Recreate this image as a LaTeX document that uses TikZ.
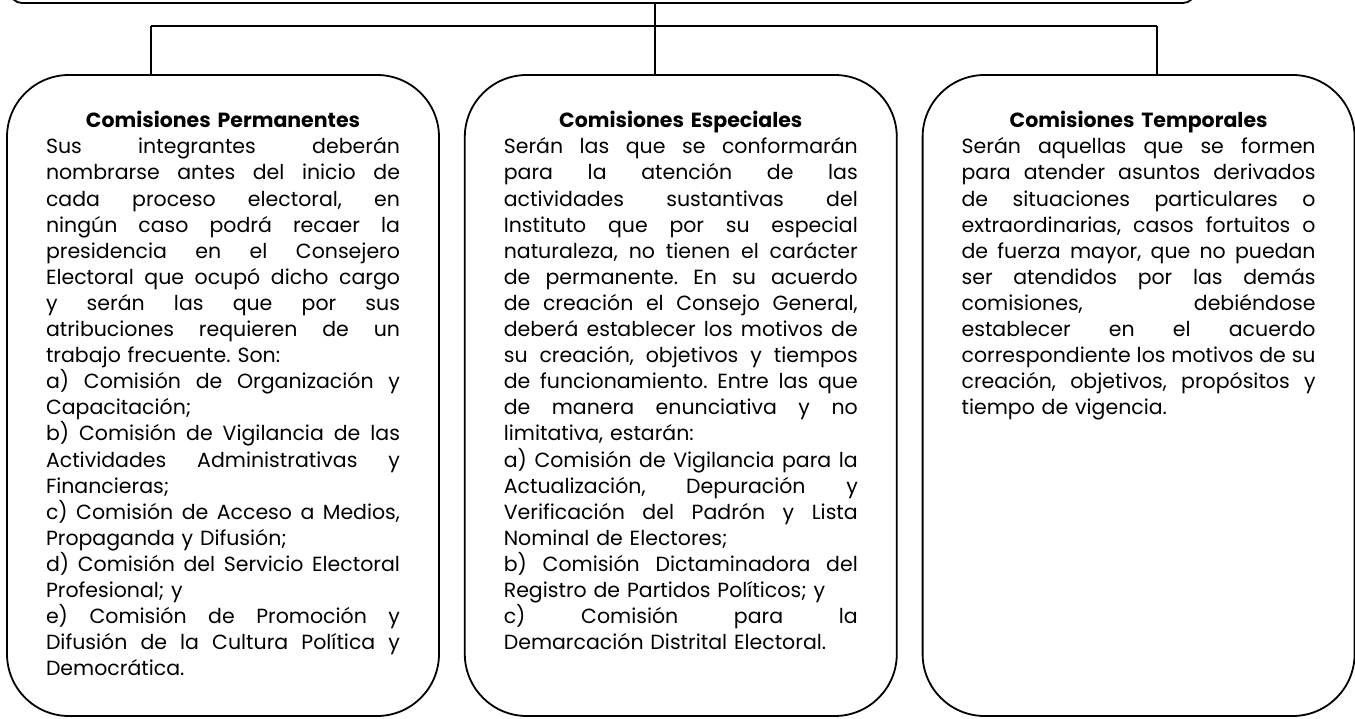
\documentclass[tikz,border=0pt]{standalone}
\usepackage{fontspec}
\setmainfont{Poppins}
\usetikzlibrary{positioning}
\newlength{\colw}
\setlength{\colw}{354pt}
\newcommand{\jl}[1]{\makebox[\colw][s]{\spaceskip=0pt\xspaceskip=0pt #1}}
\newcommand{\hd}[1]{\makebox[\colw][c]{\bfseries #1}}
\frenchspacing

\begin{document}
\begin{tikzpicture}[x=1pt,y=-1pt,node distance=24pt,inner sep=0pt]
\tikzstyle{box}=[rectangle, draw=black, line width=1.8pt, rounded corners=62pt, minimum width=432pt, minimum height=641pt]
\tikzstyle{top}=[rectangle, draw=black, line width=1.8pt, rounded corners=12pt, minimum width=1185pt, minimum height=60pt]
\tikzstyle{txt}=[anchor=north, text width=\colw, align=left, font=\fontsize{20.5}{26.1}\selectfont\frenchspacing]
\tikzstyle{connect}=[line width=1.6pt]
\useasboundingbox (0,0) rectangle (1355,719);
\node[top] (consejo) at (602.5,-27) {};
\node[box] (perm) at (223,395.5) {};
\node[box] (espe) [right=of perm] {};
\node[box] (temp) [right=of espe] {};
\coordinate (hl) at (151,26);
\coordinate (hm) at (655,26);
\coordinate (hr) at (1157,26);
\node[txt] (permtxt) [below=37pt of perm.north] {\hd{Comisiones Permanentes}\\
\jl{Sus integrantes deberán}\\
\jl{nombrarse antes del inicio de}\\
\jl{cada proceso electoral, en}\\
\jl{ningún caso podrá recaer la}\\
\jl{presidencia en el Consejero}\\
\jl{Electoral que ocupó dicho cargo}\\
\jl{y serán las que por sus}\\
\jl{atribuciones requieren de un}\\
trabajo frecuente. Son:\\
\jl{a) Comisión de Organización y}\\
Capacitación;\\
\jl{b) Comisión de Vigilancia de las}\\
\jl{Actividades Administrativas y}\\
Financieras;\\
\jl{c) Comisión de Acceso a Medios,}\\
Propaganda y Difusión;\\
\jl{d) Comisión del Servicio Electoral}\\
Profesional; y\\
\jl{e) Comisión de Promoción y}\\
\jl{Difusión de la Cultura Política y}\\
Democrática.};
\node[txt] (espetxt) [below=37pt of espe.north] {\hd{Comisiones Especiales}\\
\jl{Serán las que se conformarán}\\
\jl{para la atención de las}\\
\jl{actividades sustantivas del}\\
\jl{Instituto que por su especial}\\
\jl{naturaleza, no tienen el carácter}\\
\jl{de permanente. En su acuerdo}\\
\jl{de creación el Consejo General,}\\
\jl{deberá establecer los motivos de}\\
\jl{su creación, objetivos y tiempos}\\
\jl{de funcionamiento. Entre las que}\\
\jl{de manera enunciativa y no}\\
limitativa, estarán:\\
\jl{a) Comisión de Vigilancia para la}\\
\jl{Actualización, Depuración y}\\
\jl{Verificación del Padrón y Lista}\\
Nominal de Electores;\\
\jl{b) Comisión Dictaminadora del}\\
Registro de Partidos Políticos; y\\
\jl{c) Comisión para la}\\
Demarcación Distrital Electoral.};
\node[txt] (temptxt) [below=37pt of temp.north] {\hd{Comisiones Temporales}\\
\jl{Serán aquellas que se formen}\\
\jl{para atender asuntos derivados}\\
\jl{de situaciones particulares o}\\
\jl{extraordinarias, casos fortuitos o}\\
\jl{de fuerza mayor, que no puedan}\\
\jl{ser atendidos por las demás}\\
\jl{comisiones, debiéndose}\\
\jl{establecer en el acuerdo}\\
\jl{correspondiente los motivos de su}\\
\jl{creación, objetivos, propósitos y}\\
tiempo de vigencia.};
\draw[connect] (consejo.south -| hm) -- (espe.north -| hm);
\draw[connect] (hl) -- (hr);
\draw[connect] (hl) -- (perm.north -| hl);
\draw[connect] (hr) -- (temp.north -| hr);
\end{tikzpicture}
\end{document}
